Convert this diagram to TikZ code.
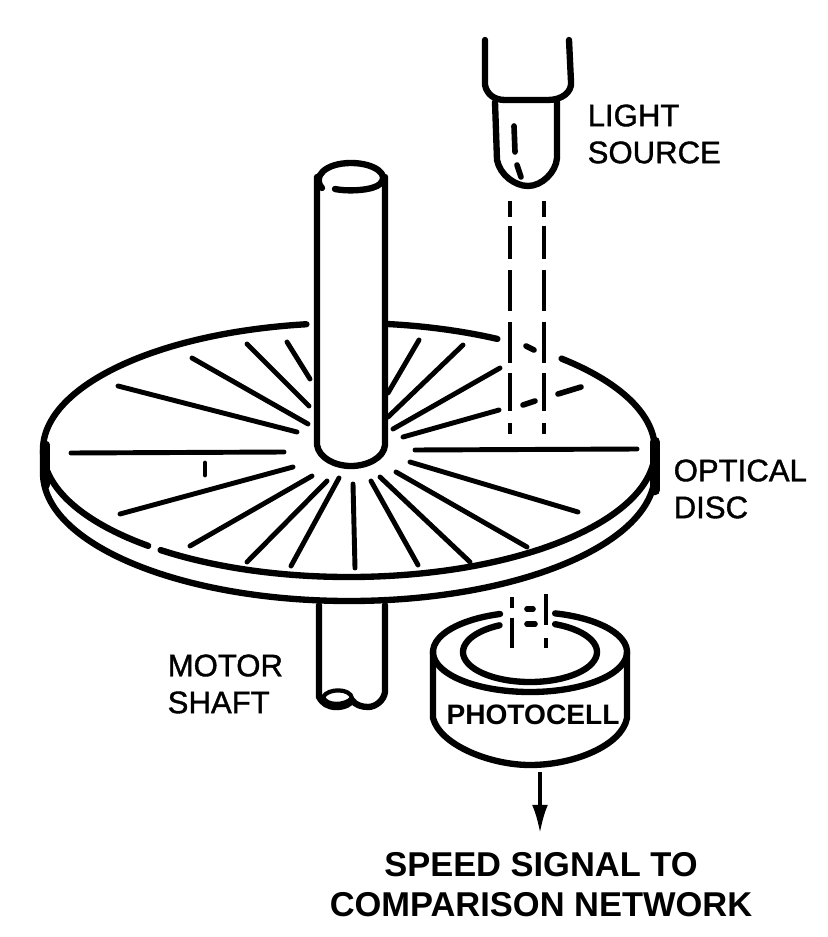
\documentclass[tikz,border=0pt]{standalone}
\usepackage{fontspec}
\setmainfont{Liberation Sans}
\newfontfamily\labelfont[FakeBold=1.2]{Liberation Sans}
\usetikzlibrary{arrows.meta}
\newcommand*{\discX}{349}
\newcommand*{\discY}{450}
\newcommand*{\discRx}{306}
\newcommand*{\discRy}{127}
\newcommand*{\cellX}{530}
\newcommand*{\cellY}{652}
\tikzset{
  outline/.style={line width=1.8pt,line cap=round,line join=round},
  spoke/.style={line width=1.4pt,line cap=round},
  beam/.style={line width=1pt},
  speck/.style={line width=1.6pt,line cap=round},
  caption/.style={anchor=west,align=left,inner sep=0pt,font=\labelfont\fontsize{8.85}{10.5}\selectfont},
  signaltext/.style={align=center,inner sep=0pt,font=\bfseries\fontsize{9.8}{11.4}\selectfont}
}

\begin{document}
\begin{tikzpicture}[x=0.01cm,y=-0.01cm]
    \useasboundingbox (0,0) rectangle (828,937);

    % disc
    \foreach \a/\b in {262/131,128/-46,-61/-83} {
      \draw [outline] ({\discX+\discRx*cos(\a)},{\discY+\discRy*sin(\a)})
        arc [start angle=\a,end angle=\b,x radius=\discRx,y radius=\discRy];
    }
    \draw [outline] (43,450) -- (43,473)
      arc [start angle=180,end angle=0,x radius=\discRx,y radius=128] -- (655,450);
    \draw [outline,line width=2.4pt] (46,445) -- (46,485);
    \draw [outline,line width=3pt] (655,442) -- (655,490);

    \foreach \xa/\ya/\xb/\yb in {
      287/342/310/379, 247/344/309/406, 192/358/308/424, 118/386/297/432,
      71/453/284/452, 120/514/293/467, 190/546/312/476, 247/562/327/481,
      291/566/339/478, 355/568/353/484, 418/565/371/481, 470/562/380/477,
      527/547/396/472, 578/512/410/462, 415/450/637/449, 403/437/499/410,
      393/429/500/368, 388/417/463/345, 388/393/419/340} {
      \draw [spoke] (\xa,\ya) -- (\xb,\yb);
    }
    \draw [spoke] (205,463) -- (205,475);

    % shaft
    \draw [outline] (317,177) -- (317,445)
      .. controls (319,458) and (335,466) .. (351,466)
      .. controls (367,466) and (384,458) .. (385,445) -- (385,177);
    \draw [outline] (322,188) .. controls (312,177) and (325,163) .. (351,163)
      .. controls (375,163) and (390,175) .. (380,184)
      .. controls (374,190) and (350,192) .. (335,189);
    \draw [outline] (319,605) -- (319,697)
      .. controls (322,703) and (328,707) .. (336,707)
      .. controls (345,707) and (350,704) .. (352,700)
      .. controls (355,705) and (362,707) .. (368,707)
      .. controls (376,707) and (384,700) .. (385,692) -- (385,605);
    \draw [outline,line width=1.2pt] (352,698) .. controls (350,688) and (328,688) .. (323,697)
      .. controls (326,706) and (345,706) .. (352,698);

    % light source
    \draw [outline] (485,40) -- (485,85) .. controls (487,95) and (495,100) .. (505,100)
      -- (548,100) .. controls (562,100) and (572,92) .. (571,82) -- (569,40);
    \draw [outline] (495,102) -- (497,160)
      .. controls (500,175) and (515,186) .. (528,186)
      .. controls (542,186) and (556,172) .. (557,158) -- (557,102);
    \draw [speck] (514,126) -- (515,152);
    \draw [speck] (517,165) -- (521,177);

    % beam
    \foreach \ya/\yb in {201/217,226/259,270/311,322/363,373/411,423/434} {
      \draw [beam] (510,\ya) -- (510,\yb);
      \draw [beam] (544,\ya) -- (544,\yb);
    }
    \foreach \ya/\yb in {597/608,618/648} {
      \draw [beam] (512,\ya) -- (512,\yb);
    }
    \foreach \ya/\yb in {594/625,638/648} {
      \draw [beam] (546,\ya) -- (546,\yb);
    }
    \foreach \xa/\ya/\xb/\yb in {
      526/346/534/350, 523/405/535/401, 558/394/581/387,
      527/609/533/609, 527/624/535/624} {
      \draw [speck] (\xa,\ya) -- (\xb,\yb);
    }

    % photocell
    \foreach \rx/\ry/\a/\b in {97/40/-75/-108,67/30/-68/-117} {
      \draw [outline] ({\cellX+\rx*cos(\a)},{\cellY+\ry*sin(\a)})
        arc [start angle=\a,end angle=\b+360,x radius=\rx,y radius=\ry];
    }
    \draw [outline] (433,652) -- (433,718)
      .. controls (440,745) and (490,765) .. (530,765)
      .. controls (575,765) and (622,745) .. (627,718) -- (627,652);

    \coordinate (cellout) at (540,772);
    \coordinate (signaltip) at (540,833);
    \draw [-{Latex[length=8pt,width=4.5pt]},line width=0.9pt] (cellout) -- (signaltip);

    % labels
    \node [caption] (lightlabel) at (587,134) {LIGHT\\SOURCE};
    \node [caption] (disclabel) at (673,489) {OPTICAL\\DISC};
    \node [caption] (shaftlabel) at (167,684) {MOTOR\\SHAFT};
    \node [font=\bfseries\fontsize{8}{9.6}\selectfont] (celllabel) at (533,715) {PHOTOCELL};
    \node [signaltext] (signallabel) at (541,885) {SPEED SIGNAL TO\\COMPARISON NETWORK};
  \end{tikzpicture}
\end{document}
